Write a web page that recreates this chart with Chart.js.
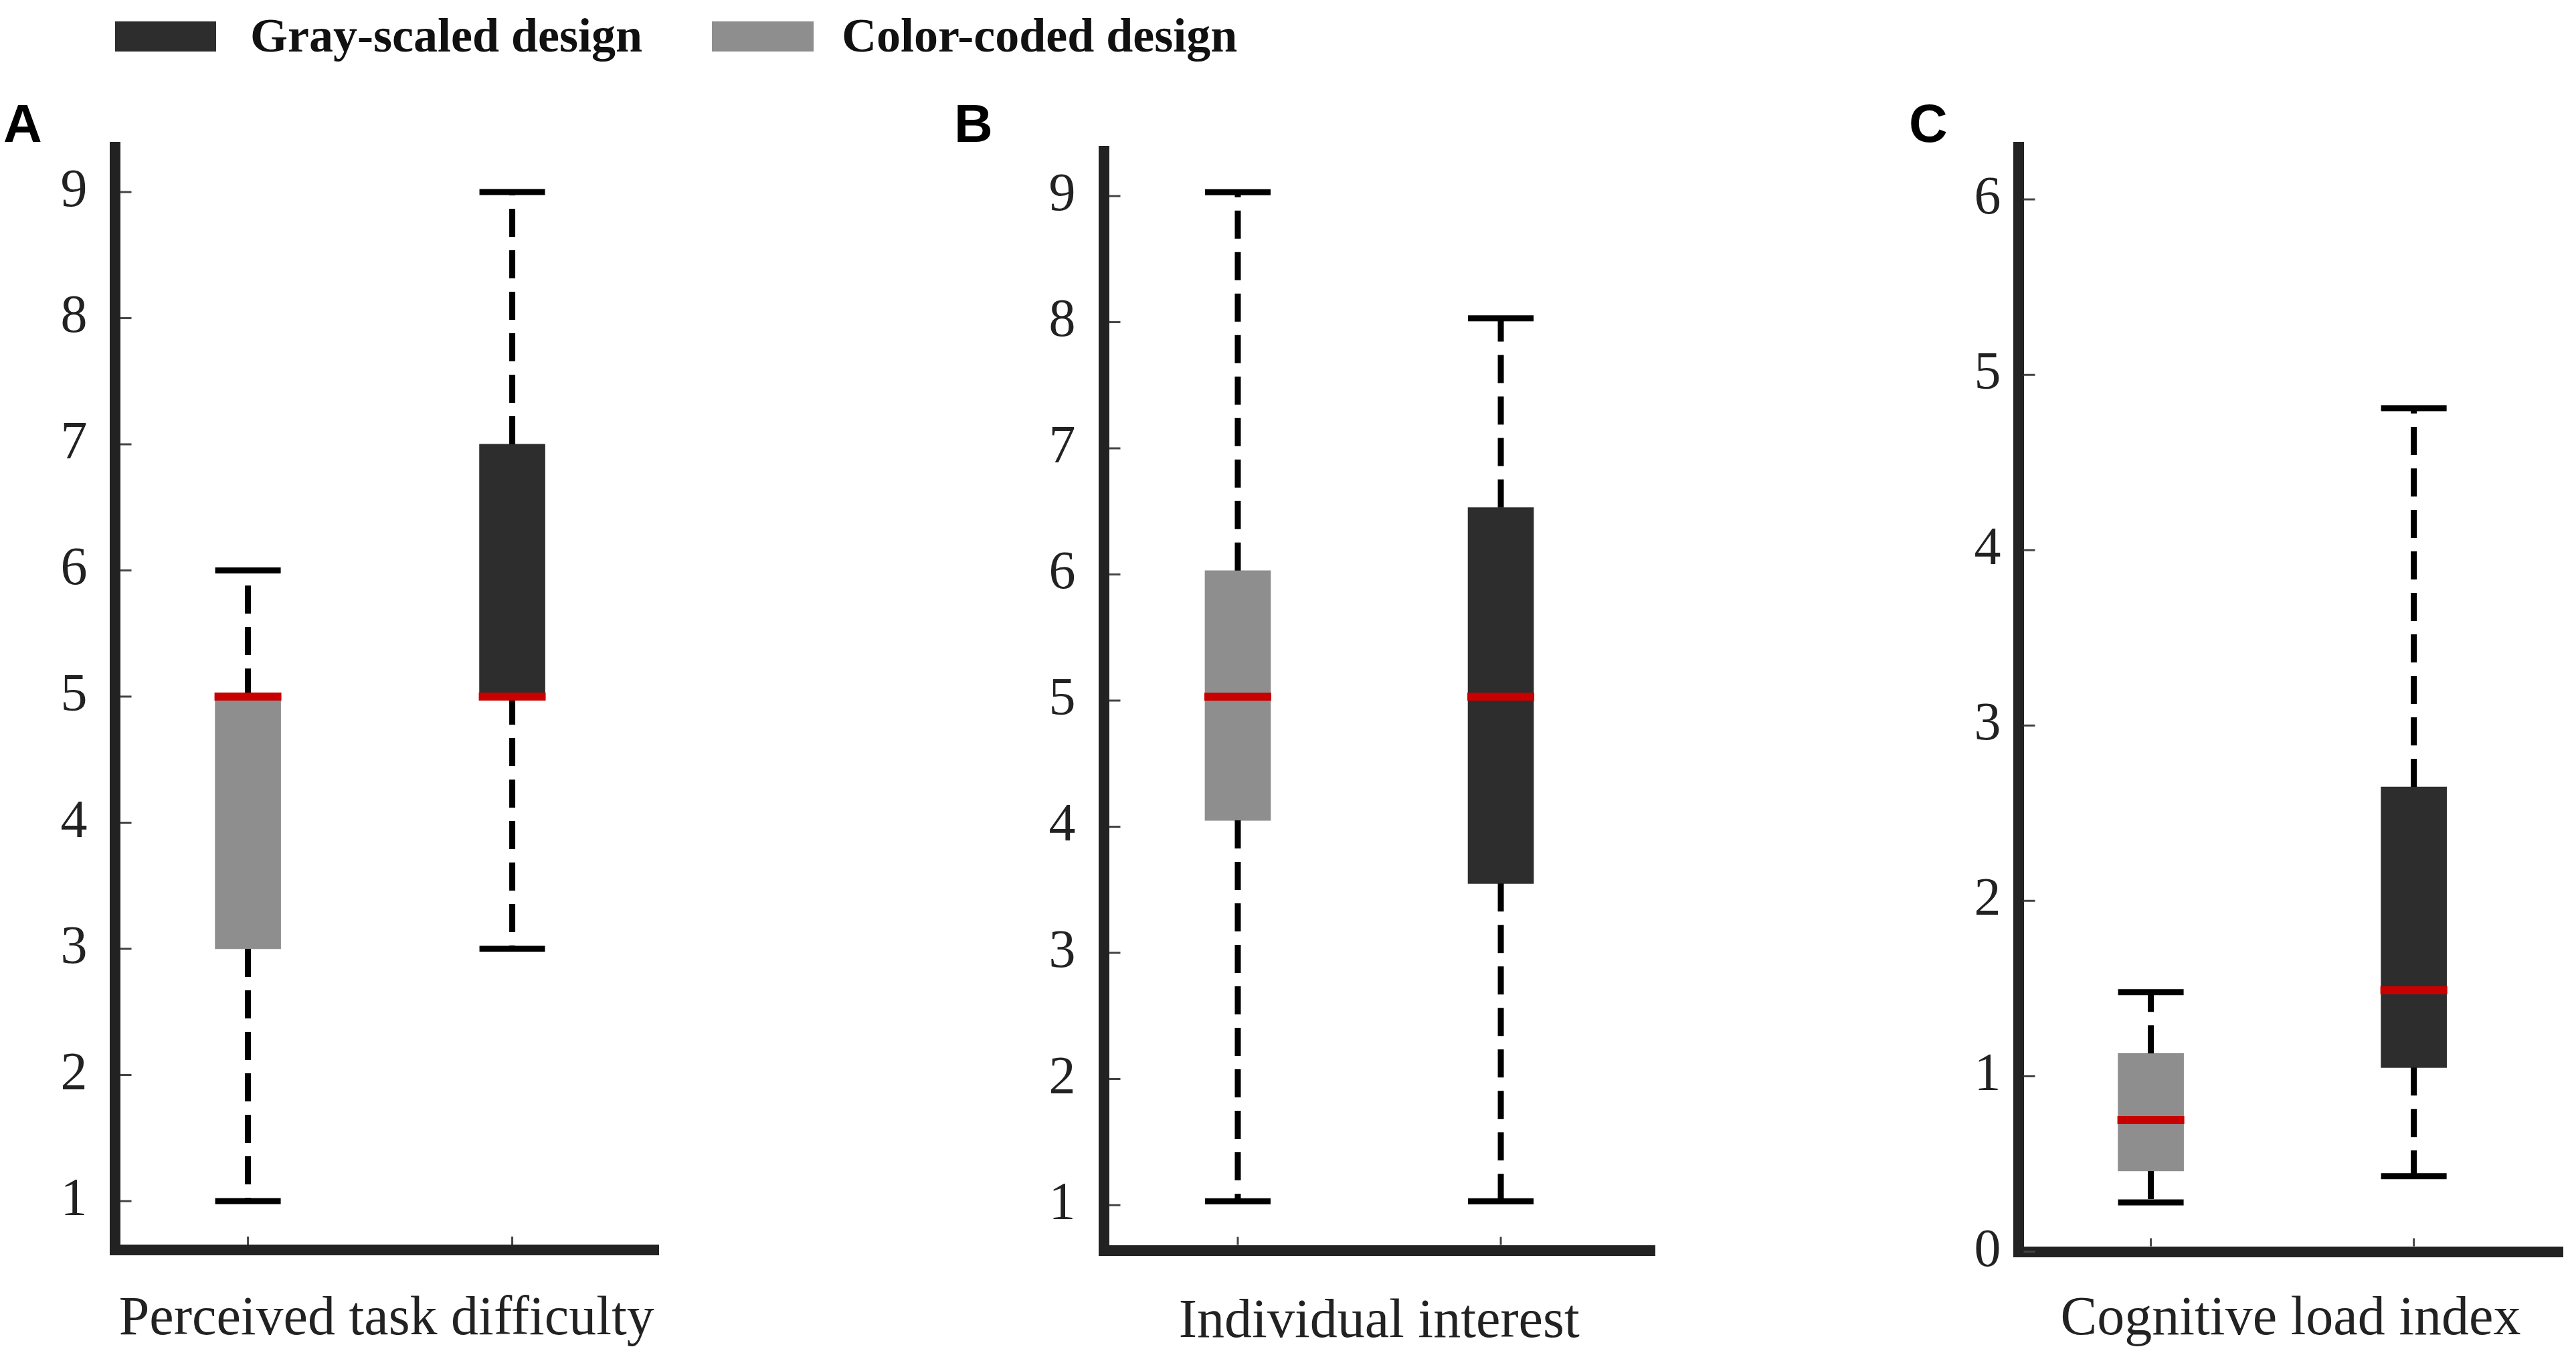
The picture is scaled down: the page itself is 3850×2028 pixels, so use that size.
<!DOCTYPE html>
<html>
<head>
<meta charset="utf-8">
<title>Box plots</title>
<script src="https://cdn.jsdelivr.net/npm/chart.js@4.4.1/dist/chart.umd.min.js"></script>
<style>
  html, body { margin: 0; padding: 0; background: #ffffff; width: 3850px; height: 2028px; overflow: hidden; }
  .panel { position: absolute; top: 0; height: 2028px; }
  .leg-box { position: absolute; }
  .leg-text { position: absolute; font: bold 72px 'Liberation Serif', 'Times New Roman', serif; line-height: 72px; color: #111; white-space: nowrap; }
  .letter { position: absolute; font: bold 80px 'Liberation Sans', Arial, sans-serif; line-height: 80px; color: #000; }
</style>
</head>
<body>
<div class="leg-box" style="left:172px;top:32px;width:151px;height:45px;background:#2d2d2d;"></div>
<div class="leg-text" style="left:374px;top:17px;">Gray-scaled design</div>
<div class="leg-box" style="left:1064px;top:32px;width:152px;height:45px;background:#8e8e8e;"></div>
<div class="leg-text" style="left:1258px;top:17px;">Color-coded design</div>

<div class="letter" style="left:5px;top:145px;">A</div>
<div class="letter" style="left:1426px;top:145px;">B</div>
<div class="letter" style="left:2853px;top:145px;">C</div>

<div class="panel" id="wrapA"><canvas id="chartA"></canvas></div>
<div class="panel" id="wrapB"><canvas id="chartB"></canvas></div>
<div class="panel" id="wrapC"><canvas id="chartC"></canvas></div>

<script>
// ---------------- DATA ----------------
// series (x positions of the two boxes in every panel)
const seriesNames = ['Color-coded design', 'Gray-scaled design'];
const xPositions = [1, 2];

// box statistics: [min, q1, median, q3, max]
const difficultyColorCoded = [1, 3, 5, 5, 6];
const difficultyGrayScaled = [3, 5, 5, 7, 9];

const interestColorCoded = [1.03, 4.05, 5.03, 6.03, 9.03];
const interestGrayScaled = [1.03, 3.55, 5.03, 6.53, 8.03];

const loadColorCoded = [0.28, 0.46, 0.75, 1.13, 1.48];
const loadGrayScaled = [0.43, 1.05, 1.49, 2.65, 4.81];

// tick labels
const ticksDifficulty = [1, 2, 3, 4, 5, 6, 7, 8, 9];
const ticksInterest = [1, 2, 3, 4, 5, 6, 7, 8, 9];
const ticksLoad = [0, 1, 2, 3, 4, 5, 6];

// axis titles
const axisTitles = ['Perceived task difficulty', 'Individual interest', 'Cognitive load index'];

// ---------------- STYLE / LAYOUT ----------------
const SERIF = "'Liberation Serif', 'Times New Roman', serif";
const COLORS = { colorCoded: '#8e8e8e', grayScaled: '#2d2d2d', median: '#c80000', whisker: '#000000', axis: '#222222', text: '#222222' };
const BOX_PX = 98;
const Y_AXIS_W = 171.5;
const PAGE_H = 2028;

const layouts = {
  A: { areaLeft: 171.5, areaTop: 220, areaRight: 984, areaBottom: 1868, xMin: 0.496, xMax: 2.553, yMin: 0.613, yMax: 9.355, tickPad: 41, titlePad: 6 },
  B: { areaLeft: 1649.5, areaTop: 226, areaRight: 2473, areaBottom: 1868.5, xMin: 0.49, xMax: 2.585, yMin: 0.642, yMax: 9.355, tickPad: 42, titlePad: 2 },
  C: { areaLeft: 3016, areaTop: 220, areaRight: 3830, areaBottom: 1870.5, xMin: 0.496, xMax: 2.567, yMin: 0, yMax: 6.298, tickPad: 26, titlePad: 6 }
};

// inward tick marks drawn from the scales
const innerTicks = {
  id: 'innerTicks',
  afterDraw(chart) {
    const { ctx, chartArea, scales } = chart;
    ctx.save();
    ctx.strokeStyle = '#444';
    ctx.lineWidth = 3;
    ctx.beginPath();
    scales.y.ticks.forEach(t => {
      const y = scales.y.getPixelForValue(t.value);
      ctx.moveTo(chartArea.left + 8, y);
      ctx.lineTo(chartArea.left + 25, y);
    });
    scales.x.ticks.forEach(t => {
      const x = scales.x.getPixelForValue(t.value);
      ctx.moveTo(x, chartArea.bottom - 8);
      ctx.lineTo(x, chartArea.bottom - 20);
    });
    ctx.stroke();
    ctx.restore();
  }
};

function whiskerPoints(x, s) {
  return [
    { x: x, y: s[1] }, { x: x, y: s[0] }, { x: x, y: null },
    { x: x, y: s[3] }, { x: x, y: s[4] }, { x: x, y: null }
  ];
}

function makePanel(key, colorStats, grayStats, yTicks, title) {
  const L = layouts[key];
  const canvasLeft = L.areaLeft - Y_AXIS_W;
  const padRight = 20;
  const width = (L.areaRight - L.areaLeft) + Y_AXIS_W + padRight;
  const wrap = document.getElementById('wrap' + key);
  wrap.style.left = canvasLeft + 'px';
  wrap.style.width = width + 'px';
  const xH = PAGE_H - L.areaBottom;

  const stats = [colorStats, grayStats];
  const whiskers = [].concat(whiskerPoints(xPositions[0], colorStats), whiskerPoints(xPositions[1], grayStats));
  const caps = [];
  const medians = [];
  stats.forEach((s, i) => {
    caps.push({ x: xPositions[i], y: s[0] });
    caps.push({ x: xPositions[i], y: s[4] });
    medians.push({ x: xPositions[i], y: s[2] });
  });

  new Chart(document.getElementById('chart' + key), {
    data: {
      datasets: [
        { type: 'bar', label: seriesNames[0], data: [{ x: xPositions[0], y: [colorStats[1], colorStats[3]] }],
          backgroundColor: COLORS.colorCoded, borderWidth: 0, barThickness: BOX_PX, stack: 'box', order: 4 },
        { type: 'bar', label: seriesNames[1], data: [{ x: xPositions[1], y: [grayStats[1], grayStats[3]] }],
          backgroundColor: COLORS.grayScaled, borderWidth: 0, barThickness: BOX_PX, stack: 'box', order: 4 },
        { type: 'line', label: 'whiskers', data: whiskers, borderColor: COLORS.whisker, borderWidth: 9,
          borderDash: [42, 20], borderCapStyle: 'butt', pointRadius: 0, fill: false, spanGaps: false, order: 3 },
        { type: 'line', label: 'caps', data: caps, showLine: false, pointStyle: 'line', pointRadius: BOX_PX / 2,
          pointBorderWidth: 9, pointBorderColor: COLORS.whisker, pointBackgroundColor: COLORS.whisker, order: 2 },
        { type: 'line', label: 'median', data: medians, showLine: false, pointStyle: 'line', pointRadius: BOX_PX / 2 + 1,
          pointBorderWidth: 12, pointBorderColor: COLORS.median, pointBackgroundColor: COLORS.median, order: 1 }
      ]
    },
    options: {
      responsive: true,
      maintainAspectRatio: false,
      animation: false,
      events: [],
      layout: { autoPadding: false, padding: { left: 0, top: L.areaTop, right: padRight, bottom: 0 } },
      plugins: { legend: { display: false }, tooltip: { enabled: false } },
      scales: {
        x: {
          type: 'linear', min: L.xMin, max: L.xMax, offset: false,
          grid: { display: false, drawTicks: false },
          border: { display: true, width: 16, color: COLORS.axis },
          ticks: { display: false },
          afterBuildTicks: s => { s.ticks = xPositions.map(v => ({ value: v })); },
          afterFit: s => { s.height = xH; },
          title: { display: true, text: title, color: COLORS.text, font: { family: SERIF, size: 82 },
                   padding: { top: 0, bottom: L.titlePad } }
        },
        y: {
          type: 'linear', min: L.yMin, max: L.yMax,
          grid: { display: false, drawTicks: false },
          border: { display: true, width: 16, color: COLORS.axis },
          ticks: { color: COLORS.text, font: { family: SERIF, size: 80 }, padding: L.tickPad, autoSkip: false },
          afterBuildTicks: s => { s.ticks = yTicks.map(v => ({ value: v })); },
          afterFit: s => { s.width = Y_AXIS_W; }
        }
      }
    },
    plugins: [innerTicks]
  });
}

makePanel('A', difficultyColorCoded, difficultyGrayScaled, ticksDifficulty, axisTitles[0]);
makePanel('B', interestColorCoded, interestGrayScaled, ticksInterest, axisTitles[1]);
makePanel('C', loadColorCoded, loadGrayScaled, ticksLoad, axisTitles[2]);
</script>
</body>
</html>
